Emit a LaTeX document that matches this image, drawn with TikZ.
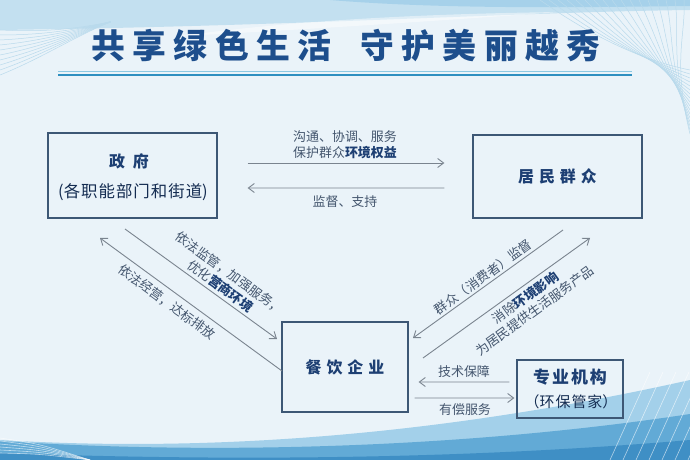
\documentclass[tikz,border=0pt]{standalone}
\usepackage{fontspec}
\setmainfont{Noto Sans CJK SC}
\usetikzlibrary{arrows.meta}
\definecolor{bgc}{HTML}{EAF3F9}
\definecolor{topa}{HTML}{C3E0F0}
\definecolor{topb}{HTML}{A6D1EA}
\definecolor{wavea}{HTML}{A3D0EA}
\definecolor{waveb}{HTML}{62AAD6}
\definecolor{wavec}{HTML}{3F8FC5}
\definecolor{wire}{HTML}{B9DAEC}
\definecolor{boxc}{HTML}{3D5775}
\definecolor{navy}{HTML}{1D3F73}
\definecolor{titlec}{HTML}{1D4E8C}
\definecolor{lblc}{HTML}{44566E}
\definecolor{arrc}{HTML}{7A848F}
\definecolor{ulthin}{HTML}{8CC8E2}
\definecolor{ulthick}{HTML}{2E8FC0}
\begin{document}
\begin{tikzpicture}[x=1bp,y=-1bp,
  box/.style={draw=boxc,line width=1.3bp,rectangle,inner sep=0pt,align=center},
  boxtitle/.style={font=\fontsize{16}{19}\selectfont\bfseries,text=navy},
  arr/.style={draw=arrc,line width=0.9bp,-{Straight Barb[length=6bp,width=9bp,line width=0.9bp]}},
  lbl/.style={font=\fontsize{13}{16}\selectfont,text=lblc,inner sep=0pt,align=center},
  wireline/.style={draw=wire,line width=0.5bp},
  whiteline/.style={draw=white,line width=0.6bp,opacity=0.6}]
\useasboundingbox (0,0) rectangle (690,460);
% background
\fill[bgc] (0,0) rectangle (690,460);
\fill[topa] (0,0) -- (690,0) -- (690,10) .. controls (520,12) and (300,26) .. (0,30) -- cycle;
\fill[topb] (330,0) -- (690,0) -- (690,6) .. controls (600,7) and (450,10) .. (330,0) -- cycle;
\fill[white,opacity=0.45] (180,36) .. controls (300,20) and (420,14) .. (560,12) .. controls (420,22) and (300,30) .. (180,36) -- cycle;
\foreach \i in {0,...,9} \draw[wireline] (0,30+\i*5) .. controls (40,32+\i*3) and (70,30+\i*1) .. (110,22);
\foreach \i in {0,...,16} \draw[wireline] (540+\i*9,0) .. controls (590+\i*6,35) and (640+\i*2,60) .. (690,70+\i*4);
% bottom waves
\fill[wavea] (0,460) -- (0,440) .. controls (200,452) and (430,438) .. (690,380) -- (690,460) -- cycle;
\fill[waveb] (0,460) -- (0,441) .. controls (230,456) and (480,446) .. (690,414) -- (690,460) -- cycle;
\fill[wavec] (0,460) -- (0,453) .. controls (250,462) and (480,458) .. (690,440) -- (690,460) -- cycle;
\foreach \i in {0,...,6} \draw[whiteline] (610+\i*13,460) -- (650+\i*13,372);
\foreach \i in {0,...,5} \draw[whiteline] (0,438+\i*3) .. controls (40,444+\i*2) .. (90,460);
% title
\node[inner sep=0pt,text=titlec,font=\fontsize{34}{40}\selectfont\bfseries] (title) at (346,46)
  {共\hspace{7.4pt}享\hspace{7.4pt}绿\hspace{7.4pt}色\hspace{7.4pt}生\hspace{7.4pt}活\hspace{29pt}守\hspace{7.4pt}护\hspace{7.4pt}美\hspace{7.4pt}丽\hspace{7.4pt}越\hspace{7.4pt}秀};
\coordinate (ulL) at (58,71.5); \coordinate (ulR) at (632,71.5);
\coordinate (ulL2) at (58,75); \coordinate (ulR2) at (632,75);
\draw[ulthin,line width=1bp] (ulL) -- (ulR);
\draw[ulthick,line width=2.6bp] (ulL2) -- (ulR2);
% boxes
\node[box,minimum width=169bp,minimum height=85bp] (gov) at (132.5,175.5) {};
\node[boxtitle] (govt) at (129,161) {政\hspace{8pt}府};
\node[font=\fontsize{16.5}{19}\selectfont,text=navy!70!black,inner sep=0pt] (govs) at (133,192) {(各\hspace{1pt}职\hspace{1pt}能\hspace{1pt}部\hspace{1pt}门\hspace{1pt}和\hspace{1pt}街\hspace{1pt}道)};
\node[box,minimum width=169bp,minimum height=83bp] (res) at (557.5,176.5) {};
\node[boxtitle] (rest) at (557.5,176.5) {居\hspace{5pt}民\hspace{5pt}群\hspace{5pt}众};
\node[box,minimum width=126bp,minimum height=90bp] (rest2) at (345,367) {};
\node[boxtitle] (restt) at (345,367) {餐\hspace{5pt}饮\hspace{5pt}企\hspace{5pt}业};
\node[box,minimum width=106bp,minimum height=58bp] (prof) at (570,389) {};
\node[font=\fontsize{17}{20}\selectfont\bfseries,text=navy,inner sep=0pt] (proft) at (570,377) {专\hspace{2pt}业\hspace{2pt}机\hspace{2pt}构};
\node[font=\fontsize{15}{18}\selectfont,text=navy!70!black,inner sep=0pt] (profs) at (571,402) {（环\hspace{1pt}保\hspace{1pt}管\hspace{1pt}家）};
% top arrows
\draw[arr,shorten <=30bp,shorten >=28bp] ([yshift=12.5bp]gov.east) -- ([yshift=13.5bp]res.west);
\draw[arr,shorten <=28bp,shorten >=30bp] ([yshift=-11.5bp]res.west) -- ([yshift=-12.5bp]gov.east);
\node[lbl] (l1) at (345,137) {沟通、协调、服务};
\node[lbl] (l2) at (345,153) {保护群众\textbf{\color{navy}环境权益}};
\node[lbl] (l3) at (345,202) {监督、支持};
% diagonal arrows left
\coordinate (a1s) at (125,229); \coordinate (a1e) at (277,339);
\coordinate (a2s) at (282,371); \coordinate (a2e) at (100,238);
\draw[arr] (a1s) -- (a1e);
\draw[arr] (a2s) -- (a2e);
\node[lbl,rotate=-36] (l4) at (225,279.5) {依法监管，加强服务，\\优化\textbf{\color{navy}营商环境}};
\node[lbl,rotate=-36] (l5) at (167,302) {依法经营，达标排放};
% diagonal arrows right
\coordinate (a3s) at (563,230); \coordinate (a3e) at (413,338);
\coordinate (a4s) at (423,358); \coordinate (a4e) at (590,238);
\draw[arr] (a3s) -- (a3e);
\draw[arr] (a4s) -- (a4e);
\node[lbl,rotate=36] (l6) at (483,277) {群众（消费者）监督};
\node[lbl,rotate=36] (l7) at (530,304) {消除\textbf{\color{navy}环境影响}\\为居民提供生活服务产品};
% bottom arrows
\draw[arr,shorten <=7bp,shorten >=10bp] ([yshift=7bp]prof.west) -- ([yshift=-15bp]rest2.east);
\draw[arr,shorten <=6bp,shorten >=2bp] ([yshift=-31bp]rest2.east) -- ([yshift=-9bp]prof.west);
\node[lbl] (l8) at (464,372) {技术保障};
\node[lbl] (l9) at (465,410) {有偿服务};
\end{tikzpicture}
\end{document}
